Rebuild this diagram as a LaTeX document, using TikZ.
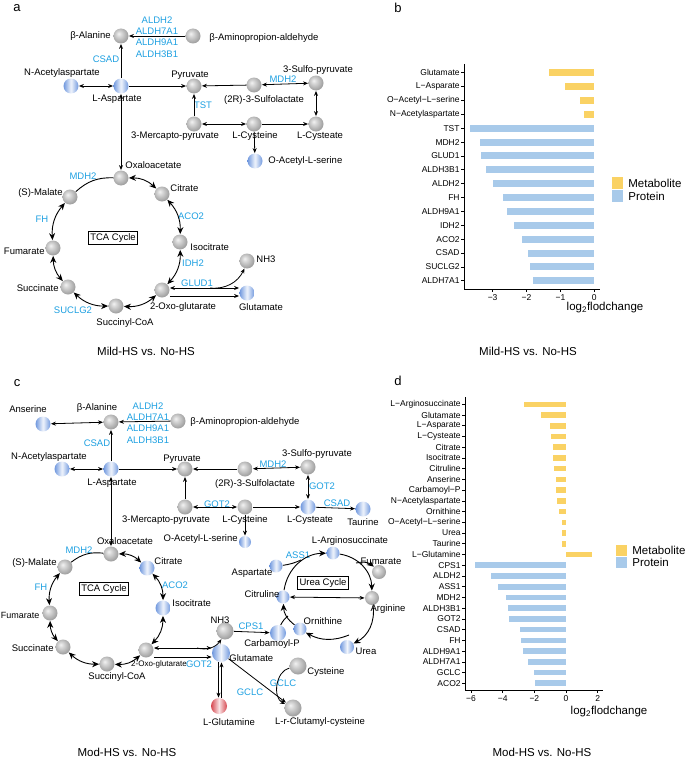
\documentclass[tikz,border=0pt]{standalone}
\usepackage{fontspec}
\setmainfont{Liberation Sans}
\usetikzlibrary{arrows.meta,positioning}

\definecolor{enzcol}{RGB}{30,160,225}
\definecolor{metblue}{RGB}{112,152,222}
\definecolor{metred}{RGB}{214,72,80}
\definecolor{baryel}{RGB}{250,210,100}
\definecolor{barblu}{RGB}{168,202,234}

\pgfdeclareradialshading{greyball}{\pgfqpoint{-8bp}{8bp}}{%
  color(0bp)=(gray!10); color(8bp)=(gray!30); color(30bp)=(gray!80);
  color(45bp)=(gray!90!black); color(60bp)=(black!70)}

\tikzset{
  gb/.style={circle,inner sep=0pt,minimum size=15pt,shading=greyball},
  bb/.style={circle,inner sep=0pt,minimum size=15pt,left color=metblue,right color=metblue,middle color=metblue!10},
  rb/.style={circle,inner sep=0pt,minimum size=16pt,left color=metred,right color=metred,middle color=metred!15},
  met/.style={inner sep=0pt},
  enzy/.style={inner sep=0pt,text=enzcol},
  cyclebox/.style={draw,line width=0.8pt,inner sep=2pt},
  tca/.style={line width=0.9pt,>={Stealth[length=7pt,width=6pt]}},
  barlab/.style={inner sep=0pt,anchor=east,font=\fontsize{8.5}{9}\selectfont},
  ticklab/.style={inner sep=0pt,font=\fontsize{8.5}{9}\selectfont},
  bigtxt/.style={inner sep=0pt,font=\fontsize{11.5}{12}\selectfont},
  panel/.style={inner sep=0pt,font=\fontsize{13}{13}\selectfont},
}

\begin{document}
\begin{tikzpicture}[x=1pt,y=-1pt,>={Stealth[length=5pt,width=4pt]},line width=0.8pt,
  every node/.style={font=\fontsize{9.5}{11}\selectfont}]
\useasboundingbox (0,0) rectangle (685,760);

% ---------- a ----------
\node[panel] (pa) at (17,8) {a};
\node[gb] (bala) at (121,36) {};
\node[gb] (bald) at (193,36) {};
\node[bb] (asp) at (121,86) {};
\node[bb] (nac) at (71,86) {};
\node[gb] (pyr) at (194,86) {};
\node[gb] (slac) at (254,85) {};
\node[gb] (spyr) at (316,83) {};
\node[gb] (merc) at (194,124) {};
\node[gb] (cys) at (254,124) {};
\node[gb] (cyst) at (316,124) {};
\node[bb] (oas) at (255,161) {};
\node[gb] (oaa) at (121,178) {};
\node[gb] (cit) at (162,194) {};
\node[gb] (iso) at (180,242) {};
\node[gb] (oxo) at (162,290) {};
\node[gb] (sco) at (116,306) {};
\node[gb] (suc) at (68,287) {};
\node[gb] (fum) at (53,248) {};
\node[gb] (mal) at (70,197) {};
\node[gb] (nh) at (247,261) {};
\node[bb] (glu) at (247,293) {};

\node[met,anchor=east] (tbala) at (111,36) {β-Alanine};
\node[met,anchor=west] (tbald) at (209,38) {β-Aminopropion-aldehyde};
\node[enzy,align=center,font=\fontsize{9.5}{11.3}\selectfont] (aldha) at (157,37) {ALDH2\\ALDH7A1\\ALDH9A1\\ALDH3B1};
\node[enzy] (csada) at (106,59) {CSAD};
\node[met] (tnac) at (62,73) {N-Acetylaspartate};
\node[met] (tasp) at (117,99) {L-Aspartate};
\node[met] (tpyr) at (190,75) {Pyruvate};
\node[met] (tslac) at (264,100) {(2R)-3-Sulfolactate};
\node[met] (tspyr) at (318,70) {3-Sulfo-pyruvate};
\node[enzy] (mdha1) at (283,79) {MDH2};
\node[enzy] (tsta) at (203,105) {TST};
\node[met] (tmerc) at (175,136) {3-Mercapto-pyruvate};
\node[met] (tcys) at (255,136) {L-Cysteine};
\node[met] (tcyst) at (320,136) {L-Cysteate};
\node[met,anchor=west] (toas) at (268,161) {O-Acetyl-L-serine};
\node[met,anchor=west] (toaa) at (125,165) {Oxaloacetate};
\node[met,anchor=west] (tcit) at (170,188) {Citrate};
\node[enzy] (mdha2) at (83,176) {MDH2};
\node[met,anchor=east] (tmal) at (63,193) {(S)-Malate};
\node[enzy] (fha) at (42,219) {FH};
\node[enzy] (acoa) at (191,216) {ACO2};
\node[met,anchor=west] (tiso) at (190,247) {Isocitrate};
\node[enzy] (idha) at (193,263) {IDH2};
\node[met,anchor=east] (tfum) at (45,251) {Fumarate};
\node[met,anchor=east] (tsuc) at (59,288) {Succinate};
\node[enzy] (suclga) at (73,310) {SUCLG2};
\node[met] (tsco) at (125,323) {Succinyl-CoA};
\node[met] (toxo) at (183,307) {2-Oxo-glutarate};
\node[enzy] (gluda) at (197,283) {GLUD1};
\node[met,anchor=west] (tnh) at (256,259) {NH3};
\node[met] (tglu) at (261,307) {Glutamate};
\node[cyclebox] (tcaa) at (113,238) {TCA Cycle};
\node[bigtxt] (capa) at (146,351) {Mild-HS vs. No-HS};

\path[->]
  (bald) edge (bala)
  (asp) edge (bala)
  (asp) edge (pyr)
  (slac) edge (pyr)
  (merc) edge (pyr)
  (cys) edge (cyst)
  (cys) edge (oas);
\path[<->]
  (nac) edge (asp)
  (slac) edge (spyr)
  (spyr) edge (cyst)
  (merc) edge (cys)
  (asp) edge (oaa);
\path[tca,<->]
  (oaa) edge[bend left=22] (cit)
  (cit) edge[bend left=22] (iso)
  (iso) edge[bend left=22] (oxo)
  (oxo) edge[bend left=22] (sco)
  (sco) edge[bend left=22] (suc)
  (suc) edge[bend left=20] (fum)
  (fum) edge[bend left=22] (mal);
\path[tca] (mal) edge[bend left=22] (oaa);

\coordinate (fork) at (210,288);
\draw[<->] ([yshift=2pt]oxo.east) -- ([yshift=2pt]oxo.east -| glu.west);
\draw[->] ([yshift=-6pt]oxo.east) -- ([yshift=-6pt]oxo.east -| glu.west);
\draw[->] (fork) to[bend right=35] (nh);

% ---------- b ----------
\node[panel] (pb) at (398,8) {b};
\foreach \lab/\v/\col [count=\i from 0] in {Glutamate/-1.33/baryel,
  L−Asparate/-0.87/baryel, O−Acetyl−L−serine/-0.42/baryel,
  N−Acetylaspartate/-0.30/baryel, TST/-3.67/barblu, MDH2/-3.37/barblu,
  GLUD1/-3.35/barblu, ALDH3B1/-3.20/barblu, ALDH2/-2.98/barblu,
  FH/-2.70/barblu, ALDH9A1/-2.59/barblu, IDH2/-2.37/barblu,
  ACO2/-2.14/barblu, CSAD/-1.95/barblu, SUCLG2/-1.90/barblu,
  ALDH7A1/-1.80/barblu}{
  \fill[\col] (594.3,{72.7+13.87*\i-3.5}) rectangle ({594.3+33.9*(\v)},{72.7+13.87*\i+3.5});
  \draw[line width=0.6pt] (461,{72.7+13.87*\i}) -- (464,{72.7+13.87*\i});
  \node[barlab] (bl\i) at (460,{72.7+13.87*\i}) {\lab};
}
\draw[line width=0.7pt] (464,64) -- (464,289) -- (600,289);
\foreach \t/\s [count=\k] in {-3/−3,-2/−2,-1/−1,0/0}{
  \draw[line width=0.6pt] ({594.3+33.9*(\t)},289) -- ({594.3+33.9*(\t)},292);
  \node[ticklab] (bx\k) at ({594.3+33.9*(\t)},298) {\s};
}
\node[bigtxt] (bxt) at (605,308) {log\textsubscript{2}flodchange};
\fill[baryel] (612,177) rectangle (623,189);
\fill[barblu] (612,190) rectangle (623,202);
\node[bigtxt,anchor=west] (blm) at (628,183) {Metabolite};
\node[bigtxt,anchor=west] (blp) at (628,196) {Protein};
\node[bigtxt] (capb) at (528,351) {Mild-HS vs. No-HS};

% ---------- c ----------
\node[panel] (pc) at (17,383) {c};
\node[bb] (cans) at (43,424) {};
\node[gb] (cbala) at (111,422) {};
\node[gb] (cbald) at (178,421) {};
\node[bb] (casp) at (111,469) {};
\node[bb] (cnac) at (62,469) {};
\node[gb] (cpyr) at (185,469) {};
\node[gb] (cslac) at (245,469) {};
\node[gb] (cspyr) at (308,467) {};
\node[bb] (ccyst) at (308,507) {};
\node[bb] (ctau) at (363,509) {};
\node[gb] (cmerc) at (185,507) {};
\node[gb] (ccys) at (245,507) {};
\node[bb,minimum size=12pt] (coas) at (245,542) {};
\node[gb] (coaa) at (111,554) {};
\node[bb] (ccit) at (147,568) {};
\node[bb] (ciso) at (163,608) {};
\node[gb] (coxo) at (146,650) {};
\node[gb] (csco) at (107,664) {};
\node[gb] (csuc) at (63,647) {};
\node[gb] (cfum) at (50,613) {};
\node[gb] (cmal) at (65,567) {};
\node[gb,minimum size=17pt] (cnh) at (225,631) {};
\node[bb,minimum size=18pt] (cglu) at (221,653) {};
\node[bb,minimum size=16pt] (ccarb) at (278,633) {};
\node[rb] (cgln) at (219,706) {};
\node[gb,minimum size=17pt] (ccys2) at (298,666) {};
\node[gb,minimum size=17pt] (cggc) at (293,708) {};
\node[bb,minimum size=13pt] (argsuc) at (333,553) {};
\node[bb,minimum size=13pt] (uasp) at (276,566) {};
\node[gb,minimum size=14pt] (ufum) at (379,572) {};
\node[gb,minimum size=14pt] (arg) at (372,598) {};
\node[bb,minimum size=13pt] (citr) at (283,597) {};
\node[bb,minimum size=13pt] (orn) at (300,629) {};
\node[bb,minimum size=14pt] (urea) at (347,647) {};

\node[met] (tcans) at (28,409) {Anserine};
\node[met] (tcbala) at (97,408) {β-Alanine};
\node[met,anchor=west] (tcbald) at (190,422) {β-Aminopropion-aldehyde};
\node[enzy,align=center,font=\fontsize{9.5}{11.3}\selectfont] (aldhc) at (148,423) {ALDH2\\ALDH7A1\\ALDH9A1\\ALDH3B1};
\node[enzy] (csadc1) at (97,443) {CSAD};
\node[met] (tcnac) at (49,457) {N-Acetylaspartate};
\node[met] (tcasp) at (112,483) {L-Aspartate};
\node[met] (tcpyr) at (182,459) {Pyruvate};
\node[met] (tcslac) at (255,484) {(2R)-3-Sulfolactate};
\node[enzy] (mdhc1) at (273,464) {MDH2};
\node[met] (tcspyr) at (317,454) {3-Sulfo-pyruvate};
\node[enzy] (gotc1) at (322,486) {GOT2};
\node[met] (tccyst) at (310,520) {L-Cysteate};
\node[enzy] (csadc2) at (337,503) {CSAD};
\node[met] (tctau) at (363,522) {Taurine};
\node[met] (tcmerc) at (166,520) {3-Mercapto-pyruvate};
\node[enzy] (gotc2) at (217,504) {GOT2};
\node[met] (tccys) at (245,520) {L-Cysteine};
\node[met,anchor=east] (tcoas) at (238,539) {O-Acetyl-L-serine};
\node[met] (tcoaa) at (125,541) {Oxaloacetate};
\node[enzy] (mdhc2) at (79,550) {MDH2};
\node[met,anchor=east] (tcmal) at (57,563) {(S)-Malate};
\node[met,anchor=west] (tccit) at (154,561) {Citrate};
\node[enzy] (acoc) at (175,585) {ACO2};
\node[met,anchor=west] (tciso) at (172,603) {Isocitrate};
\node[enzy] (fhc) at (41,587) {FH};
\node[met,anchor=west,font=\fontsize{9}{10}\selectfont] (tcfum) at (0.5,615) {Fumarate};
\node[met,anchor=east] (tcsuc) at (54,648) {Succinate};
\node[met] (tcsco) at (117,677) {Succinyl-CoA};
\node[met,font=\fontsize{8}{9}\selectfont] (tcoxo) at (159,664) {2-Oxo-glutarate};
\node[enzy] (gotc3) at (199,664) {GOT2};
\node[cyclebox] (tcac) at (104,589) {TCA Cycle};
\node[met] (tcnh) at (220,620) {NH3};
\node[enzy] (cpsc) at (251,626) {CPS1};
\node[met,anchor=west] (tcglu) at (229,658) {Glutamate};
\node[met] (tcgln) at (229,722) {L-Glutamine};
\node[met] (tcggc) at (320,722) {L-r-Clutamyl-cysteine};
\node[enzy] (gclc1) at (250,692) {GCLC};
\node[enzy] (gclc2) at (283,683) {GCLC};
\node[met,anchor=west] (tccys2) at (307,672) {Cysteine};
\node[met] (targsuc) at (350,541) {L-Arginosuccinate};
\node[met] (tufum) at (381,561) {Fumarate};
\node[met] (targ) at (388,609) {Arginine};
\node[met] (tcitr) at (262,594) {Citruline};
\node[met] (torn) at (323,621) {Ornithine};
\node[met] (turea) at (366,651) {Urea};
\node[met] (tccarb) at (272,644) {Carbamoyl-P};
\node[met] (tuasp) at (252,573) {Aspartate};
\node[enzy] (assc) at (298,555) {ASS1};
\node[cyclebox] (ureac) at (323,583) {Urea Cycle};
\node[bigtxt] (capc) at (127,752) {Mod-HS vs. No-HS};

\path[->]
  (cbald) edge (cbala)
  (casp) edge (cbala)
  (casp) edge (cpyr)
  (cslac) edge (cpyr)
  (cmerc) edge (cpyr)
  (ccys) edge (ccyst)
  (ccys) edge (coas)
  (ccyst) edge (ctau)
  (cnh) edge (ccarb)
  (cglu) edge (cggc);
\path[<->]
  (cans) edge (cbala)
  (cnac) edge (casp)
  (cslac) edge (cspyr)
  (cspyr) edge (ccyst)
  (cmerc) edge (ccys)
  (casp) edge (coaa)
  (citr) edge (arg);
\path[tca,<->]
  (coaa) edge[bend left=22] (ccit)
  (ccit) edge[bend left=22] (ciso)
  (ciso) edge[bend left=22] (coxo)
  (coxo) edge[bend left=22] (csco)
  (csco) edge[bend left=22] (csuc)
  (csuc) edge[bend left=20] (cfum)
  (cfum) edge[bend left=22] (cmal);
\path[tca] (cmal) edge[bend left=22] (coaa);

\coordinate (cfork) at (197,648);
\draw[<->] ([yshift=2pt]coxo.east) -- ([yshift=2pt]coxo.east -| cglu.west);
\draw[->] ([yshift=-7pt]coxo.east) -- ([yshift=-7pt]coxo.east -| cglu.west);
\draw[->] (cfork) to[bend right=35] (cnh);
\draw[->] ([xshift=-2.5pt]cglu.south) -- ([xshift=-2.5pt]cglu.south |- cgln.north);
\draw[->] ([xshift=2.5pt]cgln.north) -- ([xshift=2.5pt]cgln.north |- cglu.south);
\draw[->] (ccys2) to[bend right=70] (cggc);

% urea cycle
\coordinate (asjoin) at (301,560);
\coordinate (fumjoin) at (356,563);
\coordinate (ornjoin) at (349,635);
\coordinate (cpjoin) at (288,616);
\draw[tca,->] (citr) to[bend left=40] (argsuc);
\draw[tca] (uasp) to[bend right=8] (asjoin);
\draw[tca,->] (argsuc) to[bend left=40] (arg);
\draw[tca,->] (fumjoin) to[bend left=25] (ufum);
\draw[tca,->] (arg) to[bend left=35] (urea);
\draw[tca,->] (ornjoin) to[bend left=25] (orn);
\draw[tca,->] (orn) to[bend left=25] (citr);
\draw[tca] (ccarb) to[bend left=12] (cpjoin);

% ---------- d ----------
\node[panel] (pd) at (398,381) {d};
\foreach \lab/\v/\col [count=\i from 0] in {L−Arginosuccinate/-2.63/baryel,
  Glutamate/-1.58/baryel, L−Asparate/-1.01/baryel, L−Cysteate/-0.95/baryel,
  Citrate/-0.84/baryel, Isocitrate/-0.84/baryel, Citruline/-0.74/baryel,
  Anserine/-0.61/baryel, Carbamoyl−P/-0.61/baryel, N−Acetylaspartate/-0.55/baryel,
  Ornithine/-0.44/baryel, O−Acetyl−L−serine/-0.27/baryel, Urea/-0.23/baryel,
  Taurine/-0.23/baryel, L−Glutamine/1.62/baryel, CPS1/-5.75/barblu,
  ALDH2/-4.74/barblu, ASS1/-4.27/barblu, MDH2/-3.79/barblu, ALDH3B1/-3.64/barblu,
  GOT2/-3.62/barblu, CSAD/-2.91/barblu, FH/-2.86/barblu, ALDH9A1/-2.69/barblu,
  ALDH7A1/-2.38/barblu, GCLC/-2.00/barblu, ACO2/-1.98/barblu}{
  \fill[\col] (566,{404.3+10.73*\i-2.8}) rectangle ({566+15.83*(\v)},{404.3+10.73*\i+2.8});
  \draw[line width=0.6pt] (462,{404.3+10.73*\i}) -- (465,{404.3+10.73*\i});
  \node[barlab] (dl\i) at (461,{404.3+10.73*\i}) {\lab};
}
\draw[line width=0.7pt] (465,397) -- (465,690) -- (603,690);
\foreach \t/\s [count=\k] in {-6/−6,-4/−4,-2/−2,0/0,2/2}{
  \draw[line width=0.6pt] ({566+15.83*(\t)},690) -- ({566+15.83*(\t)},693);
  \node[ticklab] (dx\k) at ({566+15.83*(\t)},699) {\s};
}
\node[bigtxt] (dxt) at (609,712) {log\textsubscript{2}flodchange};
\fill[baryel] (616,545) rectangle (627,556);
\fill[barblu] (616,557) rectangle (627,568);
\node[bigtxt,anchor=west] (dlm) at (632,550) {Metabolite};
\node[bigtxt,anchor=west] (dlp) at (632,562) {Protein};
\node[bigtxt] (capd) at (542,752) {Mod-HS vs. No-HS};
\end{tikzpicture}
\end{document}
